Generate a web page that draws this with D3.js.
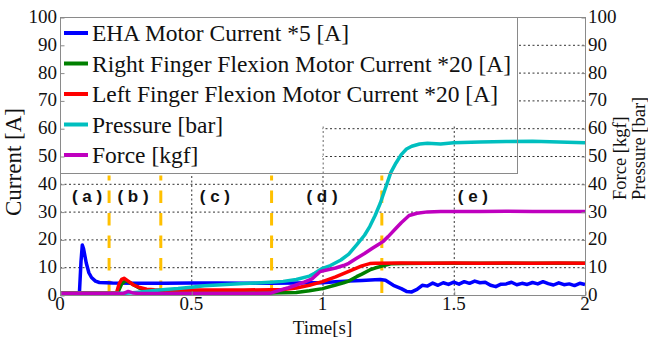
<!DOCTYPE html>
<html>
<head>
<meta charset="utf-8">
<script src="https://cdn.jsdelivr.net/npm/d3@7"></script>
</head>
<body style="margin:0">
<svg id="chart" width="648" height="338"></svg>
<script>
// time axis + ticks
const xTicks = [0, 0.5, 1, 1.5, 2]
const xTickLabels = ['0', '0.5', '1', '1.5', '2']
const yTicks = [0, 10, 20, 30, 40, 50, 60, 70, 80, 90, 100]

// experiment phases
const phaseBounds = [0.187, 0.384, 0.806, 1.226]
const phaseLabels = ['( a )', '( b )', '( c )', '( d )', '( e )']
const phaseLabelTime = [0.103, 0.278, 0.59, 0.998, 1.573]

// EHA motor current *5 [A]
const ehaTime = [0, 0.07, 0.074, 0.08, 0.085, 0.09, 0.1, 0.11, 0.12, 0.135, 0.15, 0.2, 0.3, 0.4, 0.5, 0.6, 0.7, 0.8, 0.9, 0.95, 1.0, 1.05, 1.1, 1.15, 1.2, 1.22, 1.24, 1.27, 1.3, 1.32, 1.34, 1.36, 1.38, 1.4, 1.42, 1.44, 1.46, 1.48, 1.5, 1.52, 1.54, 1.56, 1.58, 1.6, 1.62, 1.64, 1.66, 1.68, 1.7, 1.72, 1.74, 1.76, 1.78, 1.8, 1.82, 1.84, 1.86, 1.88, 1.9, 1.92, 1.94, 1.96, 1.98, 2.0]
const ehaCurrent = [0.8, 0.8, 0.8, 12, 18.0, 16.5, 11.5, 8.0, 6.3, 5.0, 4.5, 4.3, 4.2, 4.2, 4.3, 4.3, 4.2, 4.2, 4.3, 4.4, 4.4, 4.8, 5.0, 5.2, 5.5, 5.6, 5.3, 3.5, 2.3, 1.3, 1.1, 2.0, 3.5, 3.2, 4.3, 3.5, 4.4, 3.8, 4.6, 3.9, 4.8, 4.2, 5.0, 4.4, 4.6, 3.5, 3.0, 3.9, 4.0, 4.6, 3.7, 4.2, 3.8, 4.5, 4.0, 4.8, 4.1, 3.6, 4.4, 3.7, 4.0, 3.4, 4.2, 3.8]

// right finger flexion motor current *20 [A]
const rightTime = [0, 0.2, 0.22, 0.235, 0.25, 0.27, 0.3, 0.33, 0.36, 0.4, 0.6, 0.8, 0.85, 0.9, 0.95, 1.0, 1.05, 1.08, 1.1, 1.13, 1.15, 1.18, 1.2, 1.23, 1.26, 1.3, 1.4, 1.6, 1.8, 2.0]
const rightCurrent = [0.6, 0.6, 0.8, 4.0, 5.2, 4.2, 2.6, 1.6, 1.0, 0.8, 0.7, 0.7, 0.8, 0.9, 1.5, 2.3, 3.6, 4.4, 5.0, 6.6, 7.5, 9.0, 9.7, 10.5, 11.2, 11.3, 11.4, 11.4, 11.4, 11.4]

// left finger flexion motor current *20 [A]
const leftTime = [0, 0.21, 0.216, 0.225, 0.235, 0.244, 0.26, 0.28, 0.3, 0.33, 0.36, 0.4, 0.5, 0.6, 0.7, 0.8, 0.85, 0.9, 0.95, 1.0, 1.05, 1.1, 1.15, 1.18, 1.2, 1.3, 1.4, 1.5, 1.6, 1.7, 1.8, 1.9, 2.0]
const leftCurrent = [0.8, 0.8, 1.0, 4.0, 5.6, 6.0, 5.0, 3.6, 2.8, 2.1, 1.9, 1.8, 1.8, 1.8, 1.8, 1.9, 2.0, 2.5, 3.5, 4.8, 6.5, 8.5, 10.5, 11.3, 11.4, 11.5, 11.4, 11.5, 11.4, 11.5, 11.4, 11.5, 11.4]

// pressure [bar]
const pressureTime = [0, 0.25, 0.3, 0.35, 0.4, 0.45, 0.5, 0.55, 0.6, 0.65, 0.7, 0.75, 0.8, 0.85, 0.9, 0.95, 0.97, 1.0, 1.03, 1.07, 1.1, 1.13, 1.16, 1.18, 1.2, 1.22, 1.24, 1.26, 1.28, 1.3, 1.32, 1.34, 1.37, 1.4, 1.45, 1.5, 1.6, 1.7, 1.8, 1.9, 2.0]
const pressure = [0.6, 0.6, 1.0, 1.5, 2.0, 2.3, 2.8, 3.3, 3.6, 3.9, 4.1, 4.3, 4.6, 4.9, 5.6, 6.8, 7.8, 9.6, 10.6, 12.6, 14.7, 18.0, 21.5, 24.6, 28.5, 33.0, 38.5, 44.0, 47.5, 50.5, 52.5, 53.5, 54.3, 54.6, 54.3, 54.8, 55.0, 55.2, 55.3, 55.0, 54.8]

// force [kgf]
const forceTime = [0, 0.24, 0.26, 0.28, 0.3, 0.4, 0.6, 0.8, 0.84, 0.87, 0.9, 0.93, 0.96, 0.98, 0.99, 1.02, 1.05, 1.08, 1.1, 1.13, 1.16, 1.19, 1.21, 1.23, 1.25, 1.28, 1.3, 1.33, 1.36, 1.4, 1.45, 1.5, 1.6, 1.7, 1.8, 1.9, 2.0]
const force = [0.5, 0.5, 1.3, 0.7, 0.5, 0.5, 0.5, 0.6, 1.8, 2.6, 3.6, 4.6, 5.8, 7.5, 8.4, 9.1, 9.7, 10.6, 11.4, 13.2, 14.9, 16.8, 18.0, 19.2, 21.0, 24.0, 26.0, 28.6, 29.4, 29.9, 30.0, 30.0, 30.0, 30.1, 30.0, 30.0, 30.0]

const series = [
  { name: 'EHA Motor Current *5 [A]', color: '#0000ff', t: ehaTime, v: ehaCurrent },
  { name: 'Right Finger Flexion Motor Current *20 [A]', color: '#008000', t: rightTime, v: rightCurrent },
  { name: 'Left Finger Flexion Motor Current *20 [A]', color: '#ff0000', t: leftTime, v: leftCurrent },
  { name: 'Pressure [bar]', color: '#00bfbf', t: pressureTime, v: pressure },
  { name: 'Force [kgf]', color: '#bf00bf', t: forceTime, v: force },
]

const svg = d3.select('#chart')
const margin = { top: 17, right: 63, bottom: 43, left: 60 }
const width = 648, height = 338
const x = d3.scaleLinear().domain([0, 2]).range([margin.left, width - margin.right])
const y = d3.scaleLinear().domain([0, 100]).range([height - margin.bottom, margin.top])
const frame = '#8a8a8a'

// every serif label goes through here
function label(parent, str, size) {
  return parent.append('text').attr('font-family', 'Liberation Serif').attr('font-size', size)
    .attr('fill', '#111').text(str)
}

// grid
const grid = svg.append('g').attr('stroke', '#333').attr('stroke-width', 1).attr('stroke-dasharray', '2,2.5')
grid.selectAll('.gy').data(yTicks.slice(1, -1)).join('line')
  .attr('x1', x(0)).attr('x2', x(2)).attr('y1', (d) => y(d) + 0.5).attr('y2', (d) => y(d) + 0.5)
grid.selectAll('.gx').data(xTicks.slice(1, -1)).join('line')
  .attr('y1', y(0)).attr('y2', y(100)).attr('x1', (d) => x(d) + 0.5).attr('x2', (d) => x(d) + 0.5)

// legend background (the inset area lower right is left open)
const lg = { x0: x(0), x1: 517, y0: y(100), y1: 173, cutX: x(1), cutY: 125 }
svg.append('path')
  .attr('d', `M${lg.x0},${lg.y0}H${lg.x1}V${lg.cutY}H${lg.cutX}V${lg.y1}H${lg.x0}Z`)
  .attr('fill', '#fff')

// phase boundaries
svg.append('g').selectAll('line').data(phaseBounds).join('line')
  .attr('x1', (d) => x(d)).attr('x2', (d) => x(d))
  .attr('y1', y(0) - 2).attr('y2', y(43))
  .attr('stroke', '#ffc000').attr('stroke-width', 3).attr('stroke-dasharray', '12.5,10')

// data lines
const line = d3.line().x((d) => x(d[0])).y((d) => y(d[1]))
svg.append('g').attr('fill', 'none').selectAll('path').data(series).join('path')
  .attr('d', (s) => line(s.t.map((t, i) => [t, s.v[i]])))
  .attr('stroke', (s) => s.color).attr('stroke-width', 3.5).attr('stroke-linejoin', 'round')

// legend border + entries
svg.append('rect').attr('x', lg.x0 + 0.5).attr('y', lg.y0 + 0.5).attr('width', lg.x1 - lg.x0).attr('height', lg.y1 - lg.y0)
  .attr('fill', 'none').attr('stroke', frame).attr('stroke-width', 1)
series.forEach((s, i) => {
  const row = svg.append('g').attr('transform', `translate(0,${33 + i * 30.5})`)
  row.append('line').attr('x1', 64).attr('x2', 88).attr('stroke', s.color).attr('stroke-width', 4)
  label(row, s.name, 23.5).attr('x', 92).attr('y', 8)
})

// axes frame
svg.append('rect').attr('x', x(0) + 0.5).attr('y', y(100) + 0.5).attr('width', x(2) - x(0)).attr('height', y(0) - y(100))
  .attr('fill', 'none').attr('stroke', frame)

// tick marks from d3 axes, labels placed with the same scales
const tickG = svg.append('g')
tickG.append('g').attr('transform', `translate(${x(0) + 0.5},0.5)`).call(d3.axisLeft(y).tickValues(yTicks).tickSize(-4).tickFormat(''))
tickG.append('g').attr('transform', `translate(${x(2) + 0.5},0.5)`).call(d3.axisRight(y).tickValues(yTicks).tickSize(-4).tickFormat(''))
tickG.append('g').attr('transform', `translate(0.5,${y(0) + 0.5})`).call(d3.axisBottom(x).tickValues(xTicks).tickSize(-4).tickFormat(''))
tickG.selectAll('.domain').remove()
tickG.selectAll('text').remove()
tickG.selectAll('line').attr('stroke', frame)

yTicks.forEach((t) => {
  label(svg, String(t), 19).attr('x', x(0) - 3).attr('y', y(t) + 6).attr('text-anchor', 'end')
  label(svg, String(t), 19).attr('x', x(2) + 3).attr('y', y(t) + 6)
})
xTicks.forEach((t, i) => {
  label(svg, xTickLabels[i], 19).attr('x', x(t)).attr('y', y(0) + 15).attr('text-anchor', 'middle')
})

// axis titles
label(svg, 'Current [A]', 23).attr('transform', 'translate(21,162) rotate(-90)').attr('text-anchor', 'middle')
label(svg, 'Force [kgf]', 18.5).attr('transform', 'translate(626,200) rotate(-90)')
label(svg, 'Pressure [bar]', 18.5).attr('transform', 'translate(645,200) rotate(-90)')
label(svg, 'Time[s]', 19).attr('x', x(1)).attr('y', 334).attr('text-anchor', 'middle')

// phase labels
svg.append('g').selectAll('text').data(phaseLabels).join('text')
  .attr('x', (d, i) => x(phaseLabelTime[i])).attr('y', y(33.5))
  .attr('text-anchor', 'middle').attr('font-family', 'Liberation Sans').attr('font-weight', 700)
  .attr('font-size', 17).attr('fill', '#111').attr('xml:space', 'preserve')
  .text((d) => d)
</script>
</body>
</html>
